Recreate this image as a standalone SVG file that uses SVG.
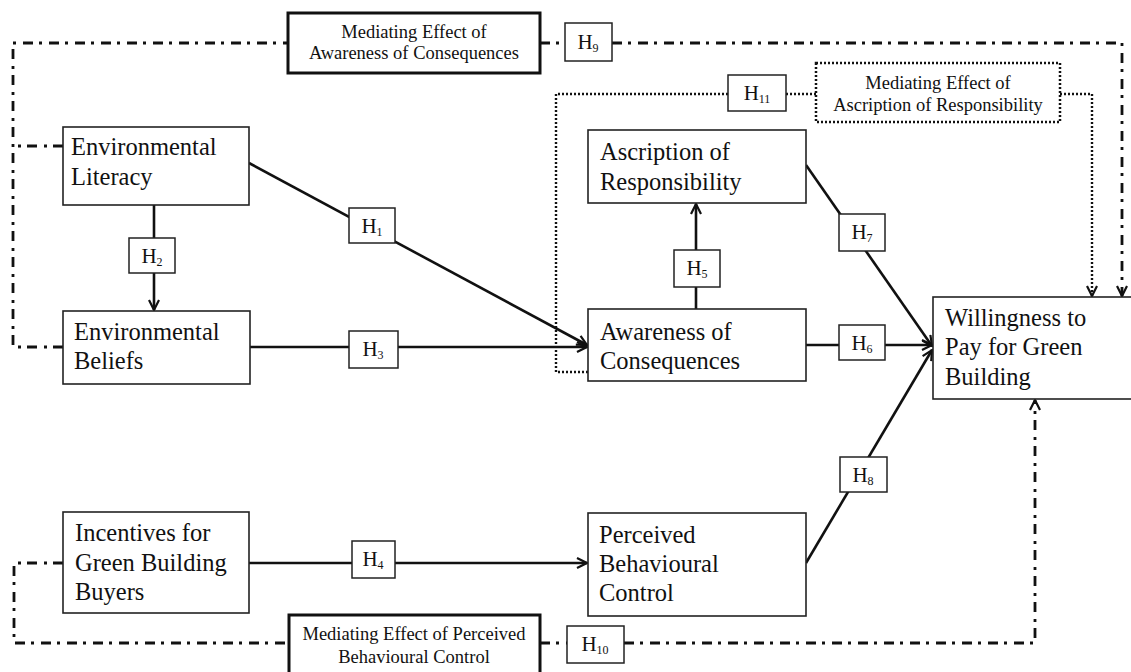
<svg xmlns="http://www.w3.org/2000/svg" width="1131" height="672" viewBox="0 0 1131 672">
<defs>
<style>
.box{fill:#fff;stroke:#222;stroke-width:1.6}
.med{fill:#fff;stroke:#111;stroke-width:3}
.dmed{fill:#fff;stroke:#111;stroke-width:2.5;stroke-dasharray:2 2}
.hb{fill:#fff;stroke:#222;stroke-width:1.5}
.t{font-family:"Liberation Serif","Times New Roman",serif;font-size:24.5px;fill:#111}
.m{font-family:"Liberation Serif","Times New Roman",serif;font-size:18.5px;fill:#111;text-anchor:middle}
.h{font-family:"Liberation Serif","Times New Roman",serif;font-size:21px;fill:#111;text-anchor:middle}
.h tspan{font-size:12px}
.sol{fill:none;stroke:#111;stroke-width:2.6}
.dd{fill:none;stroke:#111;stroke-width:2.8;stroke-dasharray:10 6 3 7}
.dot{fill:none;stroke:#111;stroke-width:2.4;stroke-dasharray:2 2}
</style>
<marker id="arr" viewBox="0 0 12 12" refX="11" refY="6" markerWidth="12" markerHeight="12" markerUnits="userSpaceOnUse" orient="auto">
<path d="M1,1 L11,6 L1,11" fill="none" stroke="#111" stroke-width="2.2"/>
</marker>
</defs>
<rect width="1131" height="672" fill="#fff"/>

<g id="connectors">
<path class="dd" d="M63,146 H13 M63,347 H13 V43 H288"/>
<path class="dd" d="M540,43 H565"/>
<path class="dd" d="M612,43 H1122 V296" marker-end="url(#arr)"/>
<path class="dd" d="M63,563 H14 V643 H289"/>
<path class="dd" d="M540,643 H567"/>
<path class="dd" d="M624,643 H1035 V400" marker-end="url(#arr)"/>
<path class="dot" d="M588,372 H556 V94 H728"/>
<path class="dot" d="M786,94 H816"/>
<path class="dot" d="M1060,94 H1092 V296" marker-end="url(#arr)"/>
<path class="sol" d="M154,205 V310" marker-end="url(#arr)"/>
<path class="sol" d="M249,163 L587,345" marker-end="url(#arr)"/>
<path class="sol" d="M250,347 H587" marker-end="url(#arr)"/>
<path class="sol" d="M696,309 V204" marker-end="url(#arr)"/>
<path class="sol" d="M806,165 L932,346" marker-end="url(#arr)"/>
<path class="sol" d="M806,345 H932" marker-end="url(#arr)"/>
<path class="sol" d="M806,563 L932,350" marker-end="url(#arr)"/>
<path class="sol" d="M249,563 H587" marker-end="url(#arr)"/>
</g>

<g id="env-literacy">
<rect class="box" x="63" y="127" width="186" height="78"/>
<text class="t" x="71" y="155">Environmental</text>
<text class="t" x="71" y="185">Literacy</text>
</g>
<g id="env-beliefs">
<rect class="box" x="63" y="311" width="187" height="73"/>
<text class="t" x="74" y="340">Environmental</text>
<text class="t" x="74" y="369">Beliefs</text>
</g>
<g id="ascription">
<rect class="box" x="588" y="130" width="218" height="73"/>
<text class="t" x="600" y="160">Ascription of</text>
<text class="t" x="600" y="190">Responsibility</text>
</g>
<g id="awareness">
<rect class="box" x="588" y="309" width="218" height="72"/>
<text class="t" x="600" y="340">Awareness of</text>
<text class="t" x="600" y="369">Consequences</text>
</g>
<g id="willingness">
<rect class="box" x="933" y="297" width="210" height="102"/>
<text class="t" x="945" y="326">Willingness to</text>
<text class="t" x="945" y="355">Pay for Green</text>
<text class="t" x="945" y="385">Building</text>
</g>
<g id="incentives">
<rect class="box" x="63" y="512" width="186" height="101"/>
<text class="t" x="75" y="541">Incentives for</text>
<text class="t" x="75" y="571">Green Building</text>
<text class="t" x="75" y="600">Buyers</text>
</g>
<g id="perceived">
<rect class="box" x="588" y="513" width="218" height="103"/>
<text class="t" x="599" y="543">Perceived</text>
<text class="t" x="599" y="572">Behavioural</text>
<text class="t" x="599" y="601">Control</text>
</g>

<g id="med-aoc">
<rect class="med" x="288" y="13" width="252" height="60"/>
<text class="m" x="414" y="38">Mediating Effect of</text>
<text class="m" x="414" y="59">Awareness of Consequences</text>
</g>
<g id="med-aor">
<rect class="dmed" x="816" y="63" width="244" height="59"/>
<text class="m" x="938" y="89">Mediating Effect of</text>
<text class="m" x="938" y="111">Ascription of Responsibility</text>
</g>
<g id="med-pbc">
<rect class="med" x="289" y="615" width="251" height="60"/>
<text class="m" x="414" y="640">Mediating Effect of Perceived</text>
<text class="m" x="414" y="663">Behavioural Control</text>
</g>

<g id="h1"><rect class="hb" x="349" y="208" width="46" height="35"/><text class="h" x="372" y="233">H<tspan dy="3">1</tspan></text></g>
<g id="h2"><rect class="hb" x="129" y="238" width="46" height="35"/><text class="h" x="152" y="263">H<tspan dy="3">2</tspan></text></g>
<g id="h3"><rect class="hb" x="349" y="331" width="49" height="37"/><text class="h" x="373" y="356">H<tspan dy="3">3</tspan></text></g>
<g id="h4"><rect class="hb" x="352" y="541" width="43" height="37"/><text class="h" x="373" y="566">H<tspan dy="3">4</tspan></text></g>
<g id="h5"><rect class="hb" x="674" y="250" width="46" height="37"/><text class="h" x="697" y="275">H<tspan dy="3">5</tspan></text></g>
<g id="h6"><rect class="hb" x="839" y="325" width="46" height="35"/><text class="h" x="862" y="350">H<tspan dy="3">6</tspan></text></g>
<g id="h7"><rect class="hb" x="839" y="214" width="46" height="37"/><text class="h" x="862" y="239">H<tspan dy="3">7</tspan></text></g>
<g id="h8"><rect class="hb" x="840" y="457" width="47" height="35"/><text class="h" x="863" y="482">H<tspan dy="3">8</tspan></text></g>
<g id="h9"><rect class="hb" x="565" y="23" width="47" height="38"/><text class="h" x="588" y="49">H<tspan dy="3">9</tspan></text></g>
<g id="h10"><rect class="hb" x="567" y="626" width="57" height="37"/><text class="h" x="595" y="651">H<tspan dy="3">10</tspan></text></g>
<g id="h11"><rect class="hb" x="728" y="75" width="58" height="36"/><text class="h" x="757" y="100">H<tspan dy="3">11</tspan></text></g>
</svg>
